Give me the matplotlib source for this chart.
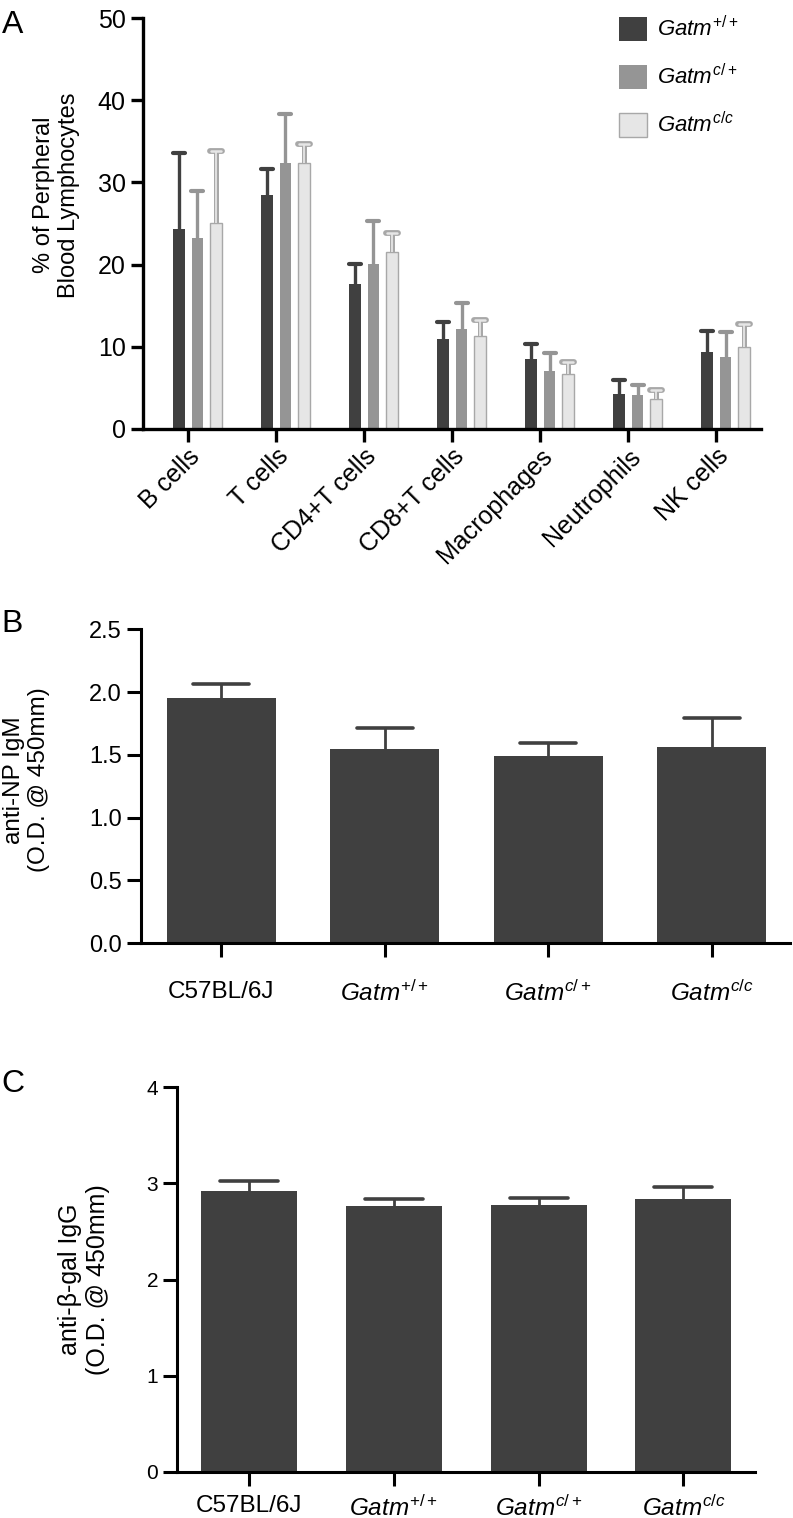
import numpy as np
import matplotlib
matplotlib.use("Agg")
import matplotlib.pyplot as plt
from matplotlib.patches import Patch
from matplotlib.markers import MarkerStyle

plt.rcParams['font.family'] = ['Liberation Sans', 'DejaVu Sans']
plt.rcParams['mathtext.fontset'] = 'custom'
plt.rcParams['mathtext.rm'] = 'Liberation Sans'
plt.rcParams['mathtext.it'] = 'Liberation Sans:italic'

# Panel A data: % of peripheral blood lymphocytes (mean, upper error)
cell_types = ['B cells', 'T cells', 'CD4+T cells', 'CD8+T cells',
              'Macrophages', 'Neutrophils', 'NK cells']
wt_mean = [24.3, 28.5, 17.6, 11.0, 8.5, 4.2, 9.4]
wt_err = [9.3, 3.1, 2.5, 2.0, 1.9, 1.8, 2.5]
het_mean = [23.2, 32.3, 20.1, 12.2, 7.1, 4.1, 8.8]
het_err = [5.8, 6.0, 5.2, 3.1, 2.1, 1.3, 3.0]
hom_mean = [25.1, 32.4, 21.5, 11.3, 6.7, 3.6, 10.0]
hom_err = [8.7, 2.3, 2.4, 2.0, 1.5, 1.1, 2.8]
genotypes = [r'$\mathit{Gatm}^{\mathit{+/+}}$', r'$\mathit{Gatm}^{\mathit{c/+}}$',
             r'$\mathit{Gatm}^{\mathit{c/c}}$']

# Panels B and C
strains = ['C57BL/6J'] + genotypes
igm_mean = [1.95, 1.545, 1.487, 1.565]
igm_err = [0.115, 0.172, 0.105, 0.228]
igg_mean = [2.924, 2.765, 2.772, 2.84]
igg_err = [0.10, 0.073, 0.073, 0.12]

DARK, GRAY, LIGHT, EDGE = '#404040', '#959595', '#e6e6e6', '#a8a8a8'

fig = plt.figure(figsize=(7.93, 15.18), dpi=100)
W, H = 793, 1518


def px_axes(left, top, right, bottom):
    return fig.add_axes([left / W, 1 - bottom / H, (right - left) / W, (bottom - top) / H])


def style_axes(ax, lw, ticklen, labelsize):
    for s in ['top', 'right']:
        ax.spines[s].set_visible(False)
    for s in ['left', 'bottom']:
        ax.spines[s].set_linewidth(lw)
    ax.tick_params(width=lw, length=ticklen, labelsize=labelsize, color='black')


def up_errors(ax, x, mean, err, color, lw, cap_ms, cap_mew, z=3):
    top = np.array(mean) + np.array(err)
    ax.vlines(x, mean, top, color=color, lw=lw, zorder=z)
    ax.plot(x, top, ls='none', marker=MarkerStyle('_', capstyle='round'),
            ms=cap_ms, mew=cap_mew, color=color, zorder=z)


# ---- Panel A
axA = px_axes(143, 18, 761, 429)
style_axes(axA, 2.4, 9, 18)
x = np.arange(len(cell_types))
offsets = [-0.105, 0.108, 0.32]
w = 0.135
series = [(wt_mean, wt_err, DARK), (het_mean, het_err, GRAY), (hom_mean, hom_err, LIGHT)]
for (m, e, c), off in zip(series, offsets):
    if c == LIGHT:
        axA.bar(x + off, m, w, color=c, edgecolor=EDGE, lw=1, zorder=2)
        up_errors(axA, x + off, m, e, EDGE, 3.6, 8.5, 4.2)
        up_errors(axA, x + off, m, e, LIGHT, 1.3, 7.0, 1.8, z=4)
    else:
        axA.bar(x + off, m, w, color=c, zorder=2)
        up_errors(axA, x + off, m, e, c, 2.4, 8, 3)
axA.set_xlim(-0.511, 6.511)
axA.set_ylim(0, 50)
axA.set_yticks(np.arange(0, 51, 10))
axA.set_xticks(x)
axA.set_xticklabels(cell_types, rotation=45, ha='right', rotation_mode='anchor')
axA.tick_params(axis='x', pad=2)
axA.set_ylabel('% of Perpheral\nBlood Lymphocytes', fontsize=17)
axA.yaxis.set_label_coords(-0.102, 0.569)
handles = [Patch(facecolor=DARK), Patch(facecolor=GRAY), Patch(facecolor=LIGHT, edgecolor=EDGE)]
axA.legend(handles, genotypes, loc='upper left', bbox_to_anchor=(619 / W, 1 - 16 / H),
           bbox_transform=fig.transFigure, frameon=False, fontsize=16, borderpad=0,
           borderaxespad=0, handlelength=1.26, handleheight=1.26, handletextpad=0.45,
           labelspacing=1.03)

# ---- Panel B
axB = px_axes(140.6, 629.3, 790, 943)
style_axes(axB, 2.2, 10, 17)
xb = np.arange(len(strains))
axB.bar(xb, igm_mean, 0.667, color=DARK, zorder=2)
up_errors(axB, xb, igm_mean, igm_err, DARK, 2.0, 40, 2.6)
axB.set_xlim(-0.492, 3.48)
axB.set_ylim(0, 2.5)
axB.set_yticks(np.arange(0, 2.51, 0.5))
axB.set_yticklabels([f'{v:.1f}' for v in np.arange(0, 2.51, 0.5)])
axB.set_xticks(xb)
axB.set_xticklabels(strains, fontsize=17.5)
axB.tick_params(axis='x', pad=17)
axB.set_ylabel('anti-NP IgM\n(O.D. @ 450mm)', fontsize=17.5)
axB.yaxis.set_label_coords(-0.139, 0.52)

# ---- Panel C
axC = px_axes(177, 1087.3, 755, 1471.7)
style_axes(axC, 2.2, 10, 15)
xc = np.arange(len(strains))
axC.bar(xc, igg_mean, 0.663, color=DARK, zorder=2)
up_errors(axC, xc, igg_mean, igg_err, DARK, 2.0, 42, 2.6)
axC.set_xlim(-0.497, 3.494)
axC.set_ylim(0, 4)
axC.set_yticks(np.arange(0, 5, 1))
axC.set_xticks(xc)
axC.set_xticklabels(strains, fontsize=17.5)
axC.tick_params(axis='x', pad=7)
axC.set_ylabel('anti-β-gal IgG\n(O.D. @ 450mm)', fontsize=18)
axC.yaxis.set_label_coords(-0.116, 0.5)

# panel letters
fig.text(0.002, 1 - 10 / H, 'A', fontsize=23, va='top')
fig.text(0.002, 1 - 609 / H, 'B', fontsize=23, va='top')
fig.text(0.002, 1 - 1069 / H, 'C', fontsize=23, va='top')

fig.savefig('out.png', dpi=100)
